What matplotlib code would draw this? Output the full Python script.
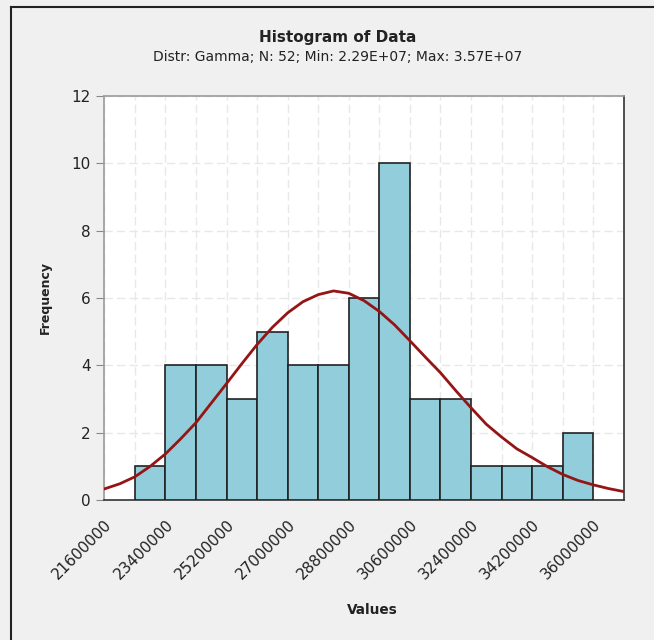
import matplotlib
matplotlib.use("Agg")
import matplotlib.pyplot as plt
from matplotlib.lines import Line2D
from matplotlib.ticker import MultipleLocator
from matplotlib.transforms import ScaledTranslation

# ---- data ----
bin_edges_start = 22500000
bin_width = 900000
counts = [1, 4, 4, 3, 5, 4, 4, 6, 10, 3, 3, 1, 1, 1, 2]
curve_x = [21600000 + 450000 * k for k in range(35)]
curve_y = [0.33, 0.48, 0.69, 1.00, 1.37, 1.82, 2.30, 2.88, 3.46, 4.05, 4.62, 5.13,
           5.56, 5.89, 6.10, 6.21, 6.14, 5.92, 5.60, 5.20, 4.73, 4.25, 3.78, 3.25,
           2.74, 2.25, 1.87, 1.52, 1.26, 0.99, 0.76, 0.58, 0.45, 0.34, 0.25]
xtick_values = [21600000, 23400000, 25200000, 27000000, 28800000, 30600000,
                32400000, 34200000, 36000000]
title = "Histogram of Data"
subtitle = "Distr: Gamma; N: 52; Min: 2.29E+07; Max: 3.57E+07"

bin_lefts = [bin_edges_start + i * bin_width for i in range(len(counts))]

plt.rcParams['font.family'] = ['DejaVu Sans']
fig = plt.figure(figsize=(6.54, 6.40), dpi=100, facecolor='#f0f0f0')
ax = fig.add_axes([0.1596, 0.21875, 0.7942, 0.63125])
ax.set_facecolor('white')

ax.bar(bin_lefts, counts, width=bin_width, align='edge', color='#92cddc',
       edgecolor='#222222', linewidth=1.2, zorder=3)
ax.plot(curve_x, curve_y, color='#951515', linewidth=2.0, zorder=4)

ax.set_xlim(21600000, 36900000)
ax.set_ylim(0, 12)
ax.set_xticks(xtick_values)
ax.set_xticklabels([str(v) for v in xtick_values], rotation=45, ha='right',
                   rotation_mode='anchor', fontsize=11, color='#222222')
offset = ScaledTranslation(6 / 100, 0, fig.dpi_scale_trans)
for lbl in ax.get_xticklabels():
    lbl.set_transform(lbl.get_transform() + offset)
ax.xaxis.set_minor_locator(MultipleLocator(900000))
ax.yaxis.set_major_locator(MultipleLocator(2))
ax.tick_params(axis='y', labelsize=11, colors='#888888', length=6, labelcolor='#222222', pad=4)
ax.tick_params(axis='x', which='both', length=0, pad=12)
ax.grid(which='both', axis='x', color='#e8e8e8', linestyle=(0, (6, 3)), linewidth=1, zorder=0)
ax.grid(which='major', axis='y', color='#e8e8e8', linestyle=(0, (6, 3)), linewidth=1, zorder=0)

for s in ['left', 'top']:
    ax.spines[s].set_color('#9a9a9a')
    ax.spines[s].set_linewidth(1.2)
for s in ['right', 'bottom']:
    ax.spines[s].set_color('#333333')
    ax.spines[s].set_linewidth(1.2)

ax.set_xlabel('Values', fontsize=9.8, fontweight='bold', color='#222222')
ax.xaxis.set_label_coords(0.5165, -0.255)
ax.set_ylabel('Frequency', fontsize=9, fontweight='bold', color='#222222')
ax.yaxis.set_label_coords(-0.102, 0.5)

fig.text(0.517, 0.942, title, ha='center', va='center', fontsize=11,
         fontweight='bold', color='#222222')
fig.text(0.517, 0.911, subtitle, ha='center', va='center', fontsize=10,
         color='#222222')

# frame border (left and top)
fig.add_artist(Line2D([11 / 654, 11 / 654], [0, 1 - 7 / 640], transform=fig.transFigure,
                      color='#222222', linewidth=1.5))
fig.add_artist(Line2D([11 / 654, 1], [1 - 7 / 640, 1 - 7 / 640], transform=fig.transFigure,
                      color='#222222', linewidth=1.5))

fig.savefig('out.png', dpi=100, facecolor=fig.get_facecolor())
